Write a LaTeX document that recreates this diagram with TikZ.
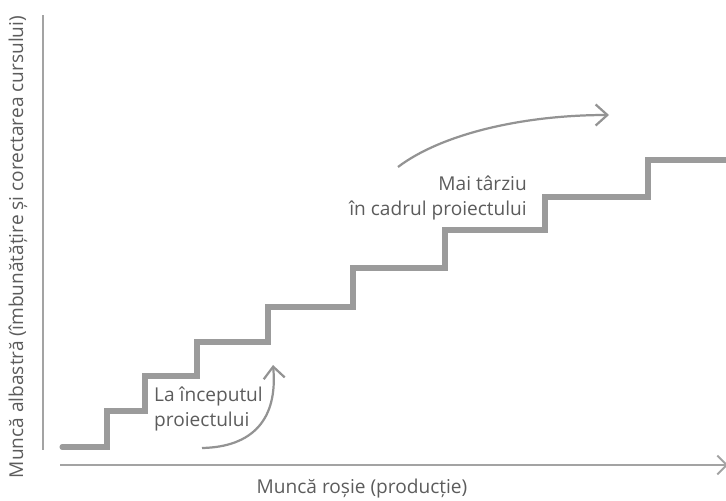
\documentclass[tikz,border=0pt]{standalone}
\usepackage{fontspec}
\setmainfont{Open Sans}
\usetikzlibrary{arrows.meta}
\definecolor{stairgray}{HTML}{9B9B9B}
\definecolor{axisgray}{HTML}{A3A3A3}
\definecolor{textgray}{HTML}{5C5C5C}
\tikzset{
  axisline/.style={draw=axisgray, line width=1.6pt},
  stairline/.style={draw=stairgray, line width=4.3pt, line cap=round},
  bendarrow/.style={draw=axisgray!90!black, line width=1.9pt,
    -{Straight Barb[length=10pt,width=18pt,line width=1.9pt]}},
  caption/.style={text=textgray, font=\fontsize{16.3}{21.5}\selectfont, inner sep=0pt}
}

\begin{document}
\begin{tikzpicture}[x=0.03cm,y=-0.03cm]
			%%%%% START %%%%%
			\useasboundingbox (0,0) rectangle (726,500);
			
			% axes
			\draw[axisline] (43,15) -- (43,450);
			\draw[axisline,-{Straight Barb[length=8pt,width=16pt,line width=1.6pt]}] (60,465) -- (728,465);
			\node[caption] (xlabel) at (362,489) {Muncă roșie (producție)};
			\node[caption, rotate=90] (ylabel) at (18,247) {Muncă albastră (îmbunătățire și corectarea cursului)};
			
			% staircase
			\draw[stairline] (62,447) -- (107,447) -- (107,411) -- (145,411) -- (145,376)
			  -- (197,376) -- (197,342) -- (268,342) -- (268,307) -- (353,307)
			  -- (353,268) -- (445,268) -- (445,230) -- (545,230) -- (545,197)
			  -- (648,197) -- (648,160) -- (735,160);
			
			% early phase
			\node[caption, align=left, anchor=west] (early) at (154,409) {La începutul\\proiectului};
			\coordinate (earlyfrom) at (202,448);
			\coordinate (earlyto) at (273,365);
			\draw[bendarrow] (earlyfrom) .. controls (252,447) and (278,420) .. (earlyto);
			
			% later phase
			\node[caption, align=right, anchor=east] (later) at (527,198) {Mai târziu\\în cadrul proiectului};
			\coordinate (laterfrom) at (398,167);
			\coordinate (laterto) at (609,115);
			\draw[bendarrow] (laterfrom) .. controls (440,135) and (520,115) .. (laterto);
			%%%%% END %%%%%
		\end{tikzpicture}
\end{document}
